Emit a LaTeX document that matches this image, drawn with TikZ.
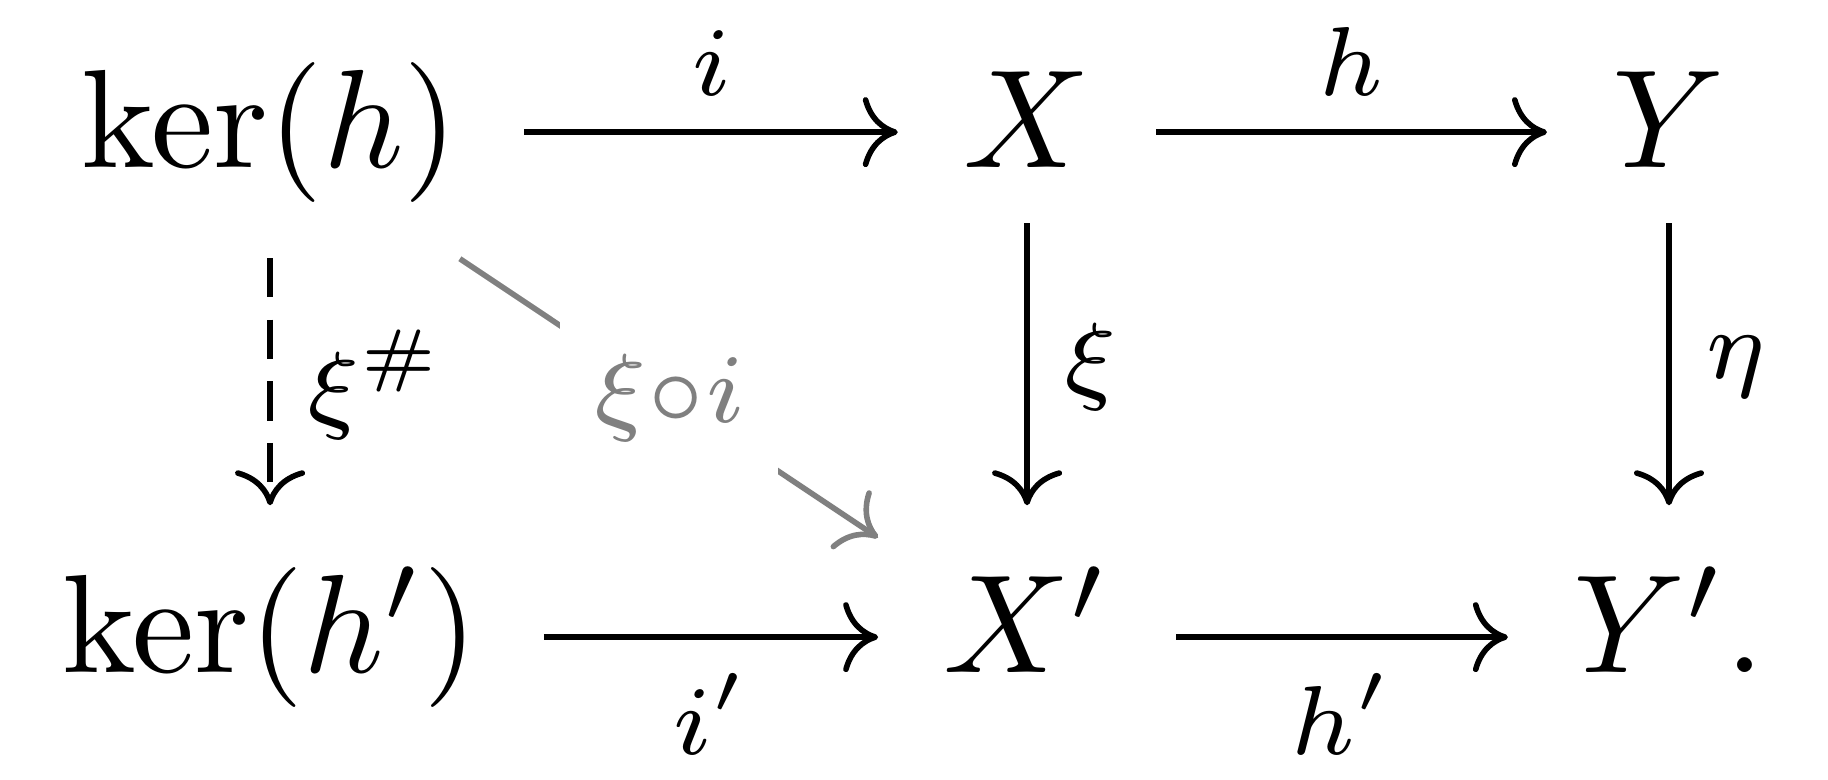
\documentclass[tikz,border=0pt]{standalone}
\usetikzlibrary{arrows.meta,calc}
\begin{document}
\tikzset{
  obj/.style={anchor=base, inner xsep=4.5pt, inner ysep=4pt},
  arr/.style={line width=0.4pt, -{Computer Modern Rightarrow[length=2.5pt,width=5pt]}},
  lbl/.style={inner sep=2.4pt},
  desc/.style={fill=white, inner sep=2.4pt},
  dashedarr/.style={dash pattern=on 2.8pt off 1.6pt},
}
\begin{tikzpicture}[x=1pt,y=1pt]
\useasboundingbox (0,0) rectangle (130.571,55.643);
\node[obj] (kerh)  at (19.29,43.71) {$\ker(h)$};
\node[obj] (X)     at (73.36,43.71) {$X$};
\node[obj] (Y)     at (119.21,43.71) {$Y$};
\node[obj] (kerhp) at (19.29,7.64) {$\ker(h')$};
\node[obj] (Xp)    at (73.36,7.64) {$X'$};
\node[obj] (Yp)    at (119.21,7.64) {$Y'.$};
% horizontal arrows
\draw[arr] ([yshift=2.5pt]kerh.base east) -- node[lbl,above]{$\scriptstyle i$} ([yshift=2.5pt]X.base west);
\draw[arr] ([yshift=2.5pt]X.base east) -- node[lbl,above]{$\scriptstyle h$} ([yshift=2.5pt]Y.base west);
\draw[arr] ([yshift=2.5pt]kerhp.base east) -- node[lbl,below]{$\scriptstyle i'$} ([yshift=2.5pt]Xp.base west);
\draw[arr] ([yshift=2.5pt]Xp.base east) -- node[lbl,below]{$\scriptstyle h'$} ([yshift=2.5pt]Yp.base west);
% vertical arrows
\draw[arr,dashedarr,shorten <=-0.2pt,shorten >=0.2pt] (kerh.south) -- node[lbl,right]{$\scriptstyle \xi^{\#}$} (kerhp.north);
\draw[arr,shorten <=-0.2pt,shorten >=0.2pt] (X.south) -- node[lbl,right]{$\scriptstyle \xi$} (Xp.north);
\draw[arr,shorten <=-0.2pt,shorten >=0.2pt] (Y.south) -- node[lbl,right]{$\scriptstyle \eta$} (Yp.north);
% diagonal
\draw[arr,black!50,shorten <=16.3pt,shorten >=12.8pt] ($(kerh.base)+(0,2.5pt)$) -- node[desc,pos=0.527]{$\scriptstyle \xi\circ i$} ($(Xp.base)+(0,2.5pt)$);
\end{tikzpicture}
\end{document}
